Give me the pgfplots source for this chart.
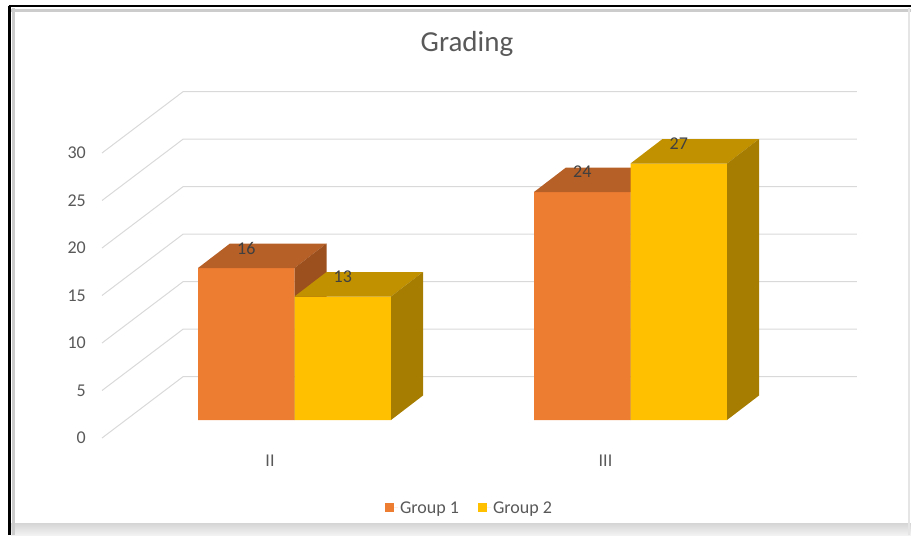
\documentclass[border=0pt]{standalone}
\usepackage{fontspec}
\setmainfont{Carlito}
\usepackage{pgfplots}
\pgfplotsset{compat=1.18}
\usepackage{pgfplotstable}

\definecolor{orFront}{HTML}{ED7D31}
\definecolor{orTop}{HTML}{B65F26}
\definecolor{orSide}{HTML}{9C501D}
\definecolor{yeFront}{HTML}{FFC000}
\definecolor{yeTop}{HTML}{C19100}
\definecolor{yeSide}{HTML}{A67D00}
\definecolor{gridc}{HTML}{D9D9D9}
\definecolor{txt}{HTML}{595959}
\definecolor{lbl}{HTML}{404040}

\pgfplotstableread{
cat g1 g2
0 16 13
1 24 27
}\data

% floor diagonals and back-wall gridlines (front y, back y)
\pgfplotstableread{
x y
-0.5729 -1.895
-0.3318 4.558
1.674 4.558
nan nan
-0.5729 3.105
-0.3318 9.558
1.674 9.558
nan nan
-0.5729 8.105
-0.3318 14.558
1.674 14.558
nan nan
-0.5729 13.105
-0.3318 19.558
1.674 19.558
nan nan
-0.5729 18.105
-0.3318 24.558
1.674 24.558
nan nan
-0.5729 23.105
-0.3318 29.558
1.674 29.558
nan nan
-0.5729 28.105
-0.3318 34.558
1.674 34.558
}\gridtab

% top and side faces of a 3D bar (depth 32pt right, 24.5pt up; 9.5pt per unit)
\pgfdeclareplotmark{topsideA}{%
  \pgfmathsetmacro\hh{\val*9.5}%
  \pgfsetfillcolor{orTop}%
  \pgfpathmoveto{\pgfpoint{-96.5pt}{0pt}}%
  \pgfpathlineto{\pgfpoint{0pt}{0pt}}%
  \pgfpathlineto{\pgfpoint{32pt}{24.5pt}}%
  \pgfpathlineto{\pgfpoint{-64.5pt}{24.5pt}}%
  \pgfpathclose\pgfusepathqfill
  \pgfsetfillcolor{orSide}%
  \pgfpathmoveto{\pgfpoint{0pt}{0pt}}%
  \pgfpathlineto{\pgfpoint{32pt}{24.5pt}}%
  \pgfpathlineto{\pgfpoint{32pt}{24.5pt-\hh pt}}%
  \pgfpathlineto{\pgfpoint{0pt}{-\hh pt}}%
  \pgfpathclose\pgfusepathqfill
}
\pgfdeclareplotmark{topsideB}{%
  \pgfmathsetmacro\hh{\val*9.5}%
  \pgfsetfillcolor{yeTop}%
  \pgfpathmoveto{\pgfpoint{0pt}{0pt}}%
  \pgfpathlineto{\pgfpoint{96.5pt}{0pt}}%
  \pgfpathlineto{\pgfpoint{128.5pt}{24.5pt}}%
  \pgfpathlineto{\pgfpoint{32pt}{24.5pt}}%
  \pgfpathclose\pgfusepathqfill
  \pgfsetfillcolor{yeSide}%
  \pgfpathmoveto{\pgfpoint{96.5pt}{0pt}}%
  \pgfpathlineto{\pgfpoint{128.5pt}{24.5pt}}%
  \pgfpathlineto{\pgfpoint{128.5pt}{24.5pt-\hh pt}}%
  \pgfpathlineto{\pgfpoint{96.5pt}{-\hh pt}}%
  \pgfpathclose\pgfusepathqfill
}

\begin{document}
\begin{tikzpicture}
\begin{axis}[
  scale only axis,
  width=911pt, height=535pt,
  xmin=-0.8765, xmax=1.8348,
  ymin=-12.105, ymax=44.2105,
  clip marker paths=true,
  /pgf/number format/assume math mode=true,
  axis line style={draw=none},
  major tick length=0pt,
  tick style={draw=none},
  unbounded coords=jump,
  ytick={-1.895,3.105,8.105,13.105,18.105,23.105,28.105},
  yticklabels={\mbox{0},\mbox{5},\mbox{10},\mbox{15},\mbox{20},\mbox{25},\mbox{30}},
  yticklabel style={anchor=east, inner sep=0pt, xshift=86pt, font=\fontsize{18}{20}\selectfont, text=txt},
  xtick={-0.0729,0.9256},
  xticklabels={\mbox{II},\mbox{III}},
  xticklabel style={anchor=center, inner sep=0pt, yshift=74pt, font=\fontsize{18}{20}\selectfont, text=txt},
  legend style={at={(rel axis cs:0.5154,0.0505)}, anchor=center, draw=none, fill=none,
    font=\fontsize{18}{20}\selectfont, text=txt, legend columns=2,
    /tikz/every even column/.append style={column sep=17pt}},
  legend image code/.code={\fill[#1] (0pt,-4.5pt) rectangle (9pt,4.5pt); \path (0pt,0pt) -- (13pt,0pt);},
]
\addplot[gridc, line width=1pt, forget plot] table[x=x,y=y]{\gridtab};

\addplot[ybar, bar width=96.5pt, bar shift=-48.25pt, fill=orFront, draw=none]
  table[x=cat,y=g1]{\data};
\addlegendentry{Group 1}
\addplot[scatter, only marks, mark=topsideA, forget plot,
  visualization depends on={\thisrow{g1}\as\val},
  nodes near coords,
  nodes near coords style={anchor=center, xshift=-48.25pt, yshift=20pt, font=\fontsize{18}{20}\selectfont, text=lbl}]
  table[x=cat,y=g1]{\data};

\addplot[ybar, bar width=96.5pt, bar shift=48.25pt, fill=yeFront, draw=none]
  table[x=cat,y=g2]{\data};
\addlegendentry{Group 2}
\addplot[scatter, only marks, mark=topsideB, forget plot,
  visualization depends on={\thisrow{g2}\as\val},
  nodes near coords,
  nodes near coords style={anchor=center, xshift=48.25pt, yshift=20pt, font=\fontsize{18}{20}\selectfont, text=lbl}]
  table[x=cat,y=g2]{\data};

\node[text=txt, font=\fontsize{29}{32}\selectfont] at (rel axis cs:0.5126,0.9178) {Grading};

% chart frame
\shade[top color=black!16, bottom color=black!5] (rel axis cs:0.012,0) rectangle (rel axis cs:1,0.0215);
\draw[black!20, line width=3pt] (rel axis cs:0.0143,0.0) -- (rel axis cs:0.0143,0.985);
\draw[black!20, line width=3pt] (rel axis cs:0.012,0.9813) -- (rel axis cs:1,0.9813);
\draw[black, line width=2.5pt] (rel axis cs:0.0107,0.0) -- (rel axis cs:0.0107,0.9897);
\draw[black, line width=2pt] (rel axis cs:0.0095,0.9897) -- (rel axis cs:1,0.9897);
\draw[black!10, line width=2pt] (rel axis cs:0.998,0.0) -- (rel axis cs:0.998,0.985);
\end{axis}
\pgfresetboundingbox
\path[use as bounding box] (current axis.south west) rectangle (current axis.north east);
\end{tikzpicture}
\end{document}
